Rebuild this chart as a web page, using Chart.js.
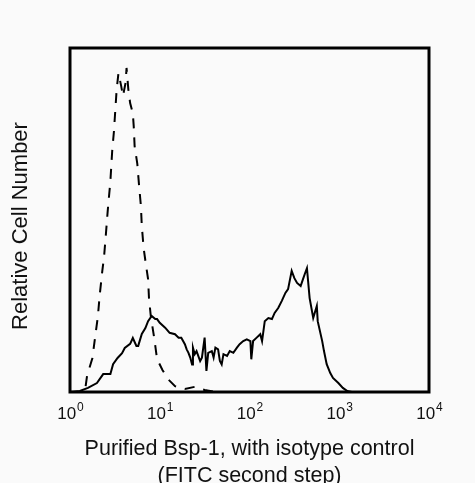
<!DOCTYPE html>
<html>
<head>
<meta charset="utf-8">
<script src="https://cdn.jsdelivr.net/npm/chart.js@4/dist/chart.umd.min.js"></script>
<style>
	html, body { margin: 0; padding: 0; background: #fafafa; }
	canvas { display: block; }
</style>
</head>
<body>
<canvas id="histo" width="475" height="483"></canvas>
<script>
// log10 of fluorescence intensity, relative cell count (0-100 of plot height)
const isotypeLog = [0.00, 0.11, 0.17, 0.19, 0.25, 0.28, 0.31, 0.33, 0.36, 0.38, 0.40, 0.42, 0.45, 0.47, 0.49, 0.50, 0.52, 0.54, 0.57, 0.59, 0.62, 0.63, 0.65, 0.67, 0.70, 0.71, 0.72, 0.75, 0.77, 0.79, 0.80, 0.82, 0.85, 0.87, 0.88, 0.90, 0.94, 0.97, 1.03, 1.09, 1.17, 1.28, 1.39, 1.50, 1.62, 4.00];
const isotypeCount = [0, 0, 0.9, 4.7, 9.9, 16, 21.8, 27.9, 35.2, 39.5, 45.9, 52.6, 61.3, 70, 75.9, 80, 88, 92.7, 89, 86, 90, 94.2, 88, 84, 81, 77.3, 71.5, 66.3, 59.9, 54.1, 48.3, 41.9, 36.3, 32.8, 27.3, 22.1, 15.4, 9.6, 6.4, 3.8, 1.7, 0.9, 1.5, 0.6, 0, 0];

const bsp1Log = [0.00, 0.11, 0.20, 0.30, 0.37, 0.45, 0.48, 0.53, 0.58, 0.61, 0.67, 0.70, 0.74, 0.76, 0.80, 0.84, 0.87, 0.91, 0.95, 0.97, 1.00, 1.06, 1.11, 1.17, 1.21, 1.24, 1.28, 1.30, 1.32, 1.34, 1.36, 1.37, 1.39, 1.41, 1.45, 1.47, 1.50, 1.52, 1.54, 1.58, 1.60, 1.62, 1.65, 1.67, 1.69, 1.71, 1.75, 1.78, 1.82, 1.86, 1.89, 1.93, 1.97, 2.01, 2.02, 2.04, 2.08, 2.12, 2.14, 2.17, 2.21, 2.25, 2.28, 2.32, 2.36, 2.40, 2.43, 2.47, 2.50, 2.53, 2.57, 2.60, 2.62, 2.64, 2.67, 2.71, 2.75, 2.76, 2.81, 2.83, 2.86, 2.90, 2.93, 2.99, 3.04, 3.09, 3.14, 4.00];
const bsp1Count = [0, 0.3, 1.2, 2.6, 5.2, 5.2, 8.1, 9.9, 11.3, 12.8, 14.0, 15.7, 13.4, 13.4, 16.9, 18.6, 20.6, 22.1, 21.2, 21.2, 20.1, 18.7, 17.2, 16.8, 15.8, 15.8, 13.9, 12.4, 11.4, 10.0, 8.0, 12.9, 11.0, 11.9, 9.0, 10.0, 15.8, 6.1, 11.4, 11.9, 10.0, 12.9, 12.4, 9.0, 8.0, 11.0, 10.5, 11.9, 11.4, 12.9, 13.9, 14.8, 15.3, 14.8, 9.5, 14.8, 15.8, 16.8, 14.8, 20.6, 21.5, 21.2, 23.0, 24.4, 26.5, 28.8, 29.9, 35.2, 33.1, 31.7, 30.8, 33.1, 34.6, 36.0, 27.3, 21.5, 25.0, 20.6, 14.8, 11.9, 8.1, 5.5, 4.1, 2.6, 1.2, 0.3, 0, 0];

const tickExponents = [0, 1, 2, 3, 4];
const xTitle = ['Purified Bsp-1, with isotype control', '(FITC second step)'];
const yTitle = 'Relative Cell Number';

const font = '"Liberation Sans", Arial, sans-serif';

const toPoints = (xs, ys) => xs.map((x, i) => ({ x, y: ys[i] }));

const frameAndLabels = {
	id: 'frameAndLabels',
	afterDatasetsDraw(chart) {
		const { ctx, chartArea, scales } = chart;
		const { left, top, right, bottom } = chartArea;
		ctx.save();

		// plot box
		ctx.strokeStyle = '#000';
		ctx.lineWidth = 3;
		ctx.strokeRect(left, top, right - left, bottom - top);

		// decade tick labels with superscript exponents
		ctx.fillStyle = '#111';
		ctx.textBaseline = 'alphabetic';
		ctx.textAlign = 'left';
		tickExponents.forEach((exp) => {
			const px = scales.x.getPixelForValue(exp);
			ctx.font = `17px ${font}`;
			const baseW = ctx.measureText('10').width;
			ctx.font = `12px ${font}`;
			const expW = ctx.measureText(String(exp)).width;
			const startX = px - (baseW + expW) / 2;
			ctx.font = `17px ${font}`;
			ctx.fillText('10', startX, bottom + 27);
			ctx.font = `12px ${font}`;
			ctx.fillText(String(exp), startX + baseW + 1, bottom + 19);
		});

		// x title
		ctx.font = `21.5px ${font}`;
		ctx.textAlign = 'center';
		const cx = (left + right) / 2;
		xTitle.forEach((line, i) => {
			ctx.fillText(line, cx, bottom + 63 + i * 27);
		});

		// y title
		ctx.font = `22px ${font}`;
		ctx.translate(27, (top + bottom) / 2 + 6);
		ctx.rotate(-Math.PI / 2);
		ctx.fillText(yTitle, 0, 0);
		ctx.restore();
	},
};

new Chart(document.getElementById('histo'), {
	type: 'scatter',
	data: {
		datasets: [
			{
				label: 'Isotype control',
				data: toPoints(isotypeLog, isotypeCount),
				showLine: true,
				borderColor: '#000',
				borderWidth: 2,
				borderDash: [10, 9],
				pointRadius: 0,
				tension: 0,
			},
			{
				label: 'Purified Bsp-1',
				data: toPoints(bsp1Log, bsp1Count),
				showLine: true,
				borderColor: '#000',
				borderWidth: 2,
				pointRadius: 0,
				tension: 0,
			},
		],
	},
	options: {
		responsive: false,
		animation: false,
		layout: {
			padding: { left: 70, top: 48, right: 46, bottom: 91 },
		},
		plugins: {
			legend: { display: false },
			tooltip: { enabled: false },
		},
		scales: {
			x: { type: 'linear', display: false, min: 0, max: 4 },
			y: { type: 'linear', display: false, min: 0, max: 100 },
		},
	},
	plugins: [frameAndLabels],
});
</script>
</body>
</html>
